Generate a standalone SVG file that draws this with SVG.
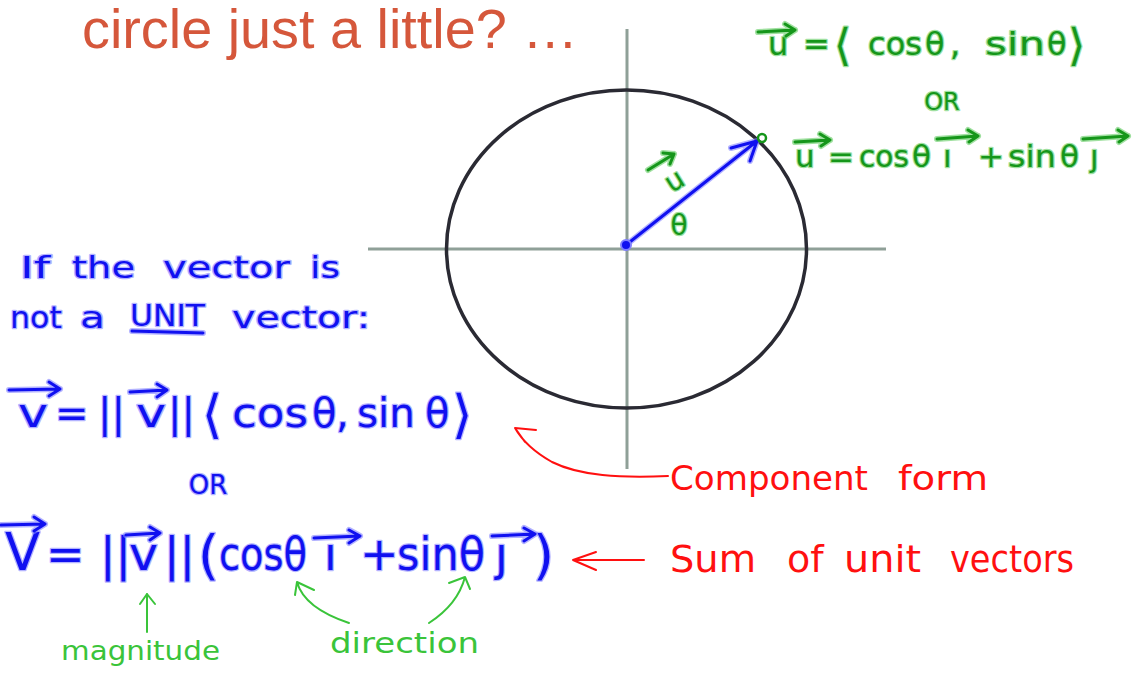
<svg xmlns="http://www.w3.org/2000/svg" width="1136" height="675" viewBox="0 0 1136 675">
<style>
.title{font-family:"Liberation Sans",Arial,sans-serif;font-size:55px;fill:#d5573b}
.hw{font-family:"DejaVu Sans","Noto Sans",sans-serif;paint-order:stroke;stroke-linejoin:round}
.blue{fill:#1010f0;stroke:#8080ff;stroke-width:2.5;stroke-opacity:.6}
.green{fill:#15961a;stroke:#60cc60;stroke-width:2.5;stroke-opacity:.6}
.red{fill:#ff1010}
.lg{fill:#3ac43a}
.bl{fill:none;stroke:#1010f0;stroke-width:3;stroke-linecap:round;stroke-linejoin:round}
.blh{fill:none;stroke:#8080ff;stroke-opacity:.6;stroke-width:6;stroke-linecap:round;stroke-linejoin:round}
.gl{fill:none;stroke:#15961a;stroke-width:3;stroke-linecap:round;stroke-linejoin:round}
.glh{fill:none;stroke:#60cc60;stroke-opacity:.6;stroke-width:6;stroke-linecap:round;stroke-linejoin:round}
.rl{fill:none;stroke:#ff1010;stroke-width:2;stroke-linecap:round;stroke-linejoin:round}
.lgl{fill:none;stroke:#3ac43a;stroke-width:2;stroke-linecap:round;stroke-linejoin:round}
.axis{stroke:#8fa098;stroke-width:3}
</style>
<rect width="1136" height="675" fill="#ffffff"/>

<text class="title" x="82" y="48" textLength="496" lengthAdjust="spacingAndGlyphs">circle just a little? …</text>

<g id="axes">
<line class="axis" x1="368" y1="249" x2="886" y2="249"/>
<line class="axis" x1="627" y1="29" x2="627" y2="469"/>
</g>
<g id="circle">
<ellipse cx="626.5" cy="249" rx="180" ry="159" fill="none" stroke="#2a2a33" stroke-width="3.5"/>
</g>

<g id="vector-u">
<path class="blh" d="M626,245 L757,141 M757,141 L731,148 M757,141 L750,161"/>
<path class="bl" d="M626,245 L757,141 M757,141 L731,148 M757,141 L750,161"/>
<circle cx="626" cy="245" r="5" fill="#1010f0" stroke="#8080ff" stroke-width="2"/>
<circle cx="762" cy="138" r="4" fill="none" stroke="#15961a" stroke-width="2.5"/>
<text class="hw green" x="674" y="190" font-size="28" text-anchor="middle" transform="rotate(-32 674 180)">u</text>
<path class="glh" d="M648,170 L674,154 M674,154 L663,153 M674,154 L670,164"/>
<path class="gl" d="M648,170 L674,154 M674,154 L663,153 M674,154 L670,164"/>
<text class="hw green" x="679" y="235" font-size="28" text-anchor="middle">θ</text>
</g>

<g id="unit-formulas">
<text class="hw green" y="55" font-size="32"><tspan x="768">u</tspan><tspan x="803">=</tspan><tspan x="834" font-size="44" y="60">⟨</tspan><tspan x="868" y="55" textLength="54" lengthAdjust="spacingAndGlyphs">cos</tspan><tspan x="925">θ</tspan><tspan x="950">,</tspan><tspan x="985" textLength="60" lengthAdjust="spacingAndGlyphs">sin</tspan><tspan x="1047">θ</tspan><tspan x="1068" font-size="44" y="60">⟩</tspan></text>
<path class="glh" d="M758,32 L795,30 M795,30 L785,24 M795,30 L786,36"/>
<path class="gl" d="M758,32 L795,30 M795,30 L785,24 M795,30 L786,36"/>
<text class="hw green" x="942" y="110" font-size="24" text-anchor="middle">OR</text>
<text class="hw green" y="167" font-size="31"><tspan x="795">u</tspan><tspan x="828">=</tspan><tspan x="859" textLength="50" lengthAdjust="spacingAndGlyphs">cos</tspan><tspan x="912">θ</tspan><tspan x="943">ı</tspan><tspan x="978">+</tspan><tspan x="1008" textLength="48" lengthAdjust="spacingAndGlyphs">sin</tspan><tspan x="1060">θ</tspan><tspan x="1090">ȷ</tspan></text>
<path class="glh" d="M795,142 L830,140 M830,140 L820,134 M830,140 L821,146 M937,139 L978,136 M978,136 L968,130 M978,136 L969,142 M1083,139 L1128,136 M1128,136 L1118,130 M1128,136 L1119,142"/>
<path class="gl" d="M795,142 L830,140 M830,140 L820,134 M830,140 L821,146 M937,139 L978,136 M978,136 L968,130 M978,136 L969,142 M1083,139 L1128,136 M1128,136 L1118,130 M1128,136 L1119,142"/>
</g>

<g id="not-unit">
<text class="hw blue" y="278" font-size="31"><tspan x="20" textLength="30" lengthAdjust="spacingAndGlyphs">If</tspan><tspan x="72" textLength="63" lengthAdjust="spacingAndGlyphs">the</tspan><tspan x="163" textLength="127" lengthAdjust="spacingAndGlyphs">vector</tspan><tspan x="310" textLength="30" lengthAdjust="spacingAndGlyphs">is</tspan></text>
<text class="hw blue" y="328" font-size="31"><tspan x="10" textLength="52" lengthAdjust="spacingAndGlyphs">not</tspan><tspan x="80" textLength="25" lengthAdjust="spacingAndGlyphs">a</tspan></text>
<text class="hw blue" x="130" y="326" font-size="30" textLength="75" lengthAdjust="spacingAndGlyphs">UNIT</text>
<path class="blh" d="M132,331 L203,333"/>
<path class="bl" d="M132,331 L203,333"/>
<text class="hw blue" x="232" y="328" font-size="31" textLength="138" lengthAdjust="spacingAndGlyphs">vector:</text>
</g>

<g id="component-eq">
<text class="hw blue" y="427" font-size="40"><tspan x="18" textLength="30" lengthAdjust="spacingAndGlyphs">v</tspan><tspan x="55">=</tspan><tspan x="98">||</tspan><tspan x="136" textLength="30" lengthAdjust="spacingAndGlyphs">v</tspan><tspan x="168">||</tspan><tspan x="202" font-size="52" y="432">⟨</tspan><tspan x="232" y="427" textLength="76" lengthAdjust="spacingAndGlyphs">cos</tspan><tspan x="312">θ</tspan><tspan x="336">,</tspan><tspan x="357" textLength="58" lengthAdjust="spacingAndGlyphs">sin</tspan><tspan x="425">θ</tspan><tspan x="452" font-size="52" y="432">⟩</tspan></text>
<path class="blh" d="M9,390 L60,389 M60,389 L49,382 M60,389 L49,396 M130,392 L167,390 M167,390 L157,384 M167,390 L157,397"/>
<path class="bl" d="M9,390 L60,389 M60,389 L49,382 M60,389 L49,396 M130,392 L167,390 M167,390 L157,384 M167,390 L157,397"/>
<text class="hw blue" x="208" y="494" font-size="26" text-anchor="middle">OR</text>
</g>

<g id="sum-eq">
<text class="hw blue" y="570" font-size="46"><tspan x="5" font-size="52" textLength="35" lengthAdjust="spacingAndGlyphs">V</tspan><tspan x="46">=</tspan><tspan x="100">||</tspan><tspan x="129" textLength="29" lengthAdjust="spacingAndGlyphs">v</tspan><tspan x="164">||</tspan><tspan x="198" font-size="54" y="574">(</tspan><tspan x="219" y="570" textLength="88" lengthAdjust="spacingAndGlyphs">cosθ</tspan><tspan x="324">ı</tspan><tspan x="360">+</tspan><tspan x="397" textLength="88" lengthAdjust="spacingAndGlyphs">sinθ</tspan><tspan x="495">ȷ</tspan><tspan x="533" font-size="54" y="574">)</tspan></text>
<path class="blh" d="M1,525 L45,524 M45,524 L34,517 M45,524 L34,531 M126,535 L160,533 M160,533 L150,527 M160,533 L150,540 M314,538 L360,536 M360,536 L349,530 M360,536 L349,543 M492,536 L535,534 M535,534 L524,528 M535,534 L524,541"/>
<path class="bl" d="M1,525 L45,524 M45,524 L34,517 M45,524 L34,531 M126,535 L160,533 M160,533 L150,527 M160,533 L150,540 M314,538 L360,536 M360,536 L349,530 M360,536 L349,543 M492,536 L535,534 M535,534 L524,528 M535,534 L524,541"/>
</g>

<g id="labels">
<text class="hw red" y="490" font-size="33"><tspan x="670" textLength="198" lengthAdjust="spacingAndGlyphs">Component</tspan><tspan x="898" textLength="90" lengthAdjust="spacingAndGlyphs">form</tspan></text>
<text class="hw red" y="572" font-size="38"><tspan x="670" textLength="86" lengthAdjust="spacingAndGlyphs">Sum</tspan><tspan x="787">of</tspan><tspan x="844" textLength="77" lengthAdjust="spacingAndGlyphs">unit</tspan><tspan x="950" textLength="124" lengthAdjust="spacingAndGlyphs">vectors</tspan></text>
<text class="hw lg" x="61" y="660" font-size="27" textLength="159" lengthAdjust="spacingAndGlyphs">magnitude</text>
<text class="hw lg" x="330" y="653" font-size="28" textLength="149" lengthAdjust="spacingAndGlyphs">direction</text>
</g>

<g id="connectors">
<path class="rl" d="M668,476 C620,478 580,476 552,462 C536,453 523,442 515,428 M515,428 L536,430 M515,428 L525,442"/>
<path class="rl" d="M644,560 L573,560 M573,560 L596,552 M573,560 L596,570"/>
<path class="lgl" d="M147,632 L147,594 M147,594 L140,604 M147,594 L155,604"/>
<path class="lgl" d="M349,623 C322,614 302,600 297,582 M297,582 L314,590 M297,582 L295,595"/>
<path class="lgl" d="M429,623 C446,612 460,596 465,577 M465,577 L449,583 M465,577 L470,589"/>
</g>
</svg>
